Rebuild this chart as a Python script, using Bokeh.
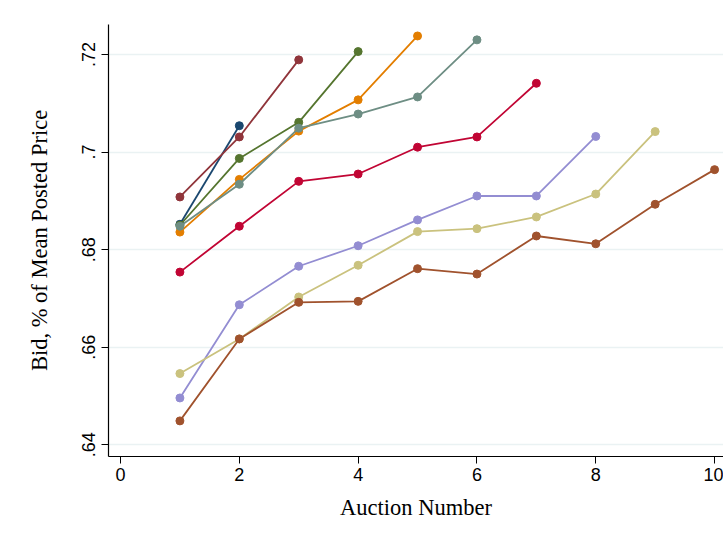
import numpy as np
from bokeh.plotting import figure
from bokeh.models import ColumnDataSource, FixedTicker, Range1d
from bokeh.embed import file_html
from bokeh.resources import INLINE

# Series values (bid as share of mean posted price) by auction number
s1 = [0.6852, 0.7054]
s2 = [0.6908, 0.7031, 0.7189]
s3 = [0.6850, 0.6987, 0.7061, 0.7206]
s4 = [0.6836, 0.6944, 0.7043, 0.7107, 0.7238]
s5 = [0.6848, 0.6934, 0.7049, 0.7078, 0.7113, 0.7230]
s6 = [0.6754, 0.6848, 0.6940, 0.6955, 0.7010, 0.7031, 0.7141]
s7 = [0.6496, 0.6687, 0.6766, 0.6808, 0.6861, 0.6910, 0.6910, 0.7032]
s8 = [0.6546, 0.6617, 0.6703, 0.6768, 0.6837, 0.6843, 0.6867, 0.6914, 0.7042]
s9 = [0.6449, 0.6617, 0.6692, 0.6694, 0.6761, 0.6750, 0.6828, 0.6812, 0.6893, 0.6964]
series = [s1, s2, s3, s4, s5, s6, s7, s8, s9]
colors = ["#1a476f", "#90353b", "#55752f", "#e37e00", "#6e8e84",
          "#c10534", "#938dd2", "#cac27e", "#a0522d"]

x_ticks = [0, 2, 4, 6, 8, 10]
y_ticks = [0.64, 0.66, 0.68, 0.70, 0.72]
y_tick_labels = [".64", ".66", ".68", ".7", ".72"]

p = figure(width=723, height=535, output_backend="svg", toolbar_location=None,
           x_range=Range1d(-0.202, 10.15), y_range=Range1d(0.6376, 0.72615),
           min_border_left=108, min_border_right=0, min_border_top=24,
           min_border_bottom=79)
p.outline_line_color = None
p.background_fill_color = "white"
p.border_fill_color = "white"

p.xgrid.grid_line_color = None
p.ygrid.grid_line_color = "#eaf2f3"
p.ygrid.grid_line_width = 1.5

for vals, c in zip(series, colors):
    xs = list(range(1, len(vals) + 1))
    src = ColumnDataSource(dict(x=xs, y=vals))
    p.line("x", "y", source=src, line_color=c, line_width=1.8)
    p.scatter("x", "y", source=src, size=8, fill_color=c, line_color=c)

p.xaxis.ticker = FixedTicker(ticks=x_ticks)
p.yaxis.ticker = FixedTicker(ticks=y_ticks)
p.yaxis.major_label_overrides = {t: l for t, l in zip(y_ticks, y_tick_labels)}
p.yaxis.major_label_orientation = "vertical"

for ax in (p.xaxis, p.yaxis):
    ax.axis_line_color = "black"
    ax.axis_line_width = 1.2
    ax.major_tick_line_color = "black"
    ax.major_tick_in = 0
    ax.major_tick_out = 7
    ax.minor_tick_line_color = None
    ax.major_label_text_font = "Liberation Sans"
    ax.major_label_text_font_size = "18px"
    ax.major_label_text_color = "black"
    ax.axis_label_text_font = "Liberation Serif"
    ax.axis_label_text_font_style = "normal"
    ax.axis_label_text_font_size = "22.5px"
    ax.axis_label_text_color = "black"

p.xaxis.axis_label = "Auction Number"
p.yaxis.axis_label = "Bid, % of Mean Posted Price"
p.xaxis.major_label_standoff = 4
p.yaxis.major_label_standoff = 6
p.xaxis.axis_label_standoff = 11
p.yaxis.axis_label_standoff = 28

open("out.html", "w").write(file_html(p, INLINE))
